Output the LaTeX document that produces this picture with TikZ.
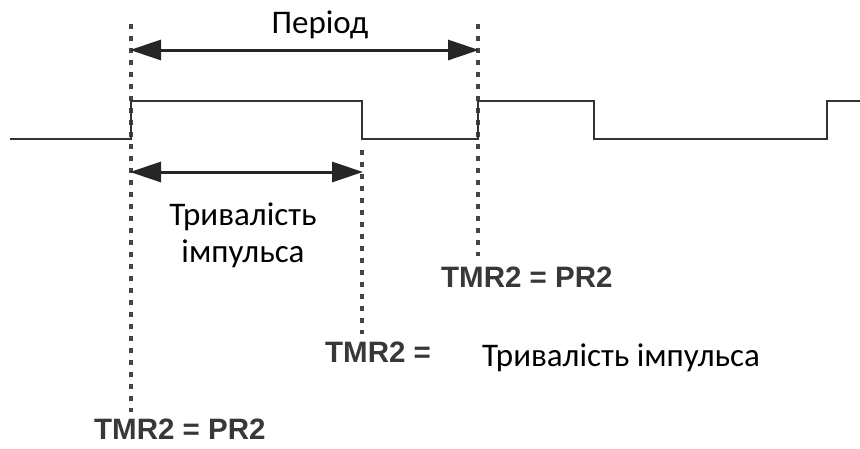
\documentclass[tikz,border=0pt]{standalone}
\usepackage{fontspec}
\setmainfont{Carlito}
\newfontfamily\regfont{Liberation Sans}
\usetikzlibrary{arrows.meta}
\definecolor{sig}{HTML}{333333}
\definecolor{guide}{HTML}{444444}
\tikzset{
  x=1pt, y=-1pt,
  signal/.style={draw=sig, line width=2.8pt, line join=miter},
  guideline/.style={draw=guide, line width=3.4pt, dash pattern=on 5pt off 7pt},
  span/.style={draw=black!85, line width=3pt,
    {Triangle[length=31pt,width=20pt]}-{Triangle[length=31pt,width=20pt]}, shorten <=-1pt, shorten >=-1pt},
  caption/.style={font=\fontsize{33}{37}\selectfont, text=black, inner sep=0pt, align=center},
  reglabel/.style={font=\regfont\bfseries\fontsize{29.5}{32}\selectfont, text=black!78, inner sep=0pt, anchor=base west}
}
\begin{document}
\begin{tikzpicture}
\useasboundingbox (0,0) rectangle (860,448);

% dotted guide lines at the edges of the waveform
\coordinate (g1t) at (131,24);  \coordinate (g1b) at (131,412);
\coordinate (g2t) at (362,150); \coordinate (g2b) at (362,334);
\coordinate (g3t) at (478,24);  \coordinate (g3b) at (478,256);
\draw[guideline] (g1t) -- (g1b);
\draw[guideline] (g2t) -- (g2b);
\draw[guideline] (g3t) -- (g3b);

% waveform
\draw[signal] (10,139) -- (131,139) -- (131,101) -- (362,101) -- (362,139)
  -- (478,139) -- (478,101) -- (594,101) -- (594,139) -- (827,139)
  -- (827,101) -- (860,101);

% period and pulse-width spans
\coordinate (pa) at (131,50);  \coordinate (pb) at (478,50);
\coordinate (wa) at (131,172); \coordinate (wb) at (362,172);
\draw[span] (pa) -- (pb);
\draw[span] (wa) -- (wb);

% captions
\node[caption, anchor=base] (period) at (320,33) {Період};
\node[caption, anchor=base] (width1) at (243,262) {Тривалість\\імпульса};
\node[caption, anchor=base west] (width2) at (482,366) {Тривалість імпульса};

% register conditions
\node[reglabel] (cond1) at (441,287) {TMR2 = PR2};
\node[reglabel] (cond2) at (325,362) {TMR2 =};
\node[reglabel] (cond3) at (94,439) {TMR2 = PR2};
\end{tikzpicture}
\end{document}
